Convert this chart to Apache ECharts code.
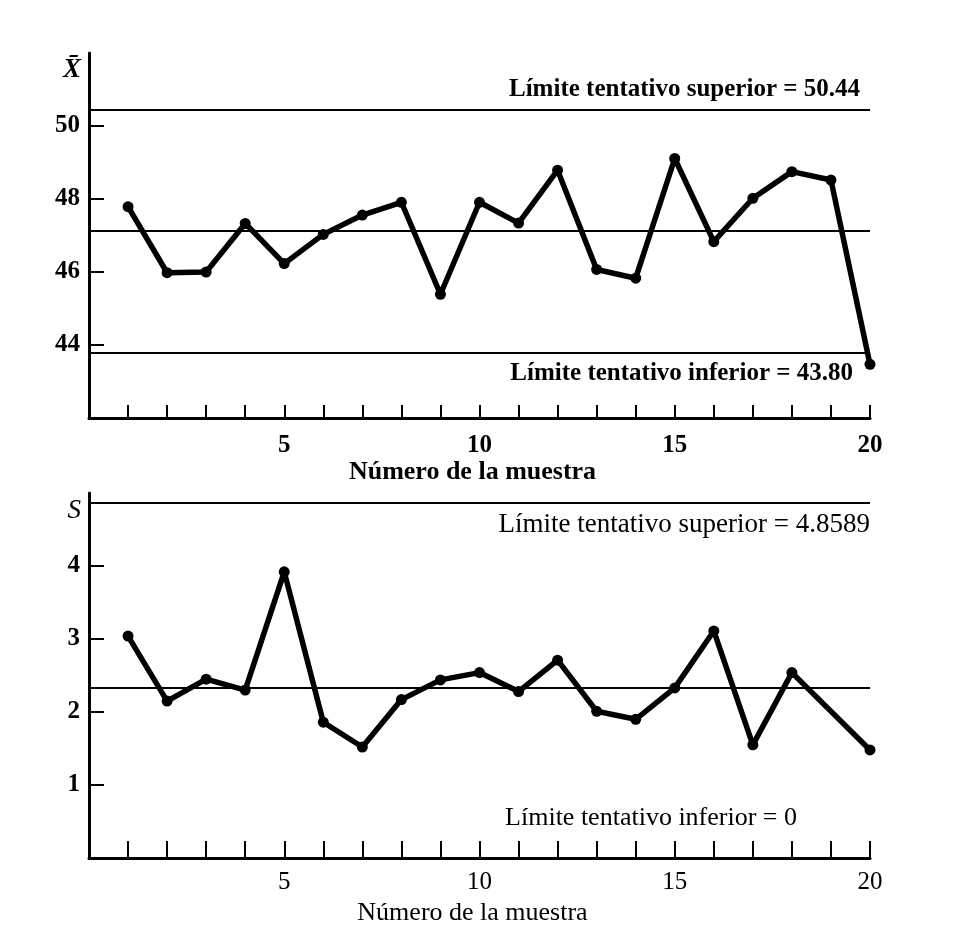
<!DOCTYPE html>
<html><head><meta charset="utf-8">
<script src="https://cdn.jsdelivr.net/npm/echarts@6/dist/echarts.min.js"></script>
<style>html,body{margin:0;padding:0;background:#fff}#c{width:972px;height:928px}</style>
</head><body><div id="c"></div>
<script>
// ---- data ----
const samples = [1,2,3,4,5,6,7,8,9,10,11,12,13,14,15,16,17,18,19,20];
const xbarValues = [47.79,45.98,46.00,47.33,46.23,47.03,47.56,47.91,45.39,47.91,47.34,48.79,46.07,45.83,49.11,46.83,48.02,48.75,48.52,43.47];
const sValues = [3.04,2.15,2.45,2.30,3.92,1.86,1.52,2.17,2.44,2.54,2.28,2.71,2.01,1.90,2.33,3.11,1.55,2.54,null,1.48];
const xbarUpper = 50.44, xbarCenter = 47.12, xbarLower = 43.80;
const sUpper = 4.8589, sCenter = 2.326, sLower = 0;
const xTickValues = [1,2,3,4,5,6,7,8,9,10,11,12,13,14,15,16,17,18,19,20];
const xLabelValues = [5,10,15,20];
const xbarTickValues = [44,46,48,50];
const sTickValues = [1,2,3,4];
const xName = 'Número de la muestra';
const xbarName = 'X\u0304';
const sName = 'S';
const xbarUpperText = 'Límite tentativo superior = 50.44';
const xbarLowerText = 'Límite tentativo inferior = 43.80';
const sUpperText = 'Límite tentativo superior = 4.8589';
const sLowerText = 'Límite tentativo inferior = 0';

const FONT = 'Liberation Serif';
const toPairs = (vals) => samples.map((x, i) => [x, vals[i]]);

function xAxisCfg(gridIndex, bold, tickLen, margin, nameGap) {
  return {
    type: 'value', gridIndex, min: 0, max: 20, interval: 1,
    name: xName, nameLocation: 'middle', nameGap,
    nameTextStyle: { fontFamily: FONT, fontSize: 26, fontWeight: bold ? 'bold' : 'normal', color: '#000', padding: [0, 14, 0, 0] },
    axisLine: { show: true, onZero: false, lineStyle: { color: '#000', width: 3 } },
    axisTick: { show: true, inside: true, length: tickLen, customValues: xTickValues, lineStyle: { color: '#000', width: 2 } },
    axisLabel: { customValues: xLabelValues, margin, fontFamily: FONT, fontSize: 25, fontWeight: bold ? 'bold' : 'normal', color: '#000' },
    splitLine: { show: false }
  };
}
function yAxisCfg(gridIndex, min, max, interval, ticks, name, nameStyle) {
  return {
    type: 'value', gridIndex, min, max, interval,
    name, nameLocation: 'end', nameGap: -4, nameMoveOverlap: false,
    nameTextStyle: Object.assign({ fontFamily: FONT, fontSize: 27, color: '#000', align: 'right', verticalAlign: 'top', padding: [0, 8, 0, 0] }, nameStyle),
    axisLine: { show: true, onZero: false, lineStyle: { color: '#000', width: 3 } },
    axisTick: { show: true, inside: true, length: 15, customValues: ticks, lineStyle: { color: '#000', width: 2 } },
    axisLabel: { customValues: ticks, margin: 9, fontFamily: FONT, fontSize: 25, fontWeight: 'bold', color: '#000' },
    splitLine: { show: false }
  };
}
function limitLine(value, text, position, distance, bold, size) {
  return {
    yAxis: value,
    lineStyle: { color: '#000', width: 2, type: 'solid' },
    label: text ? { show: true, formatter: text, position, distance, opacity: 1, fontFamily: FONT, fontSize: size, fontWeight: bold ? 'bold' : 'normal', color: '#000' } : { show: false }
  };
}

const chart = echarts.init(document.getElementById('c'), null, { renderer: 'canvas' });
chart.setOption({
  animation: false,
  backgroundColor: '#fff',
  grid: [
    { left: 89, right: 102, top: 53, height: 365, outerBoundsMode: 'none' },
    { left: 89, right: 102, top: 493, height: 365, outerBoundsMode: 'none' }
  ],
  xAxis: [xAxisCfg(0, true, 13, 15, 41), xAxisCfg(1, false, 17, 12, 42)],
  yAxis: [
    yAxisCfg(0, 42, 52, 2, xbarTickValues, xbarName, { fontWeight: 'bold', fontStyle: 'italic' }),
    yAxisCfg(1, 0, 5, 1, sTickValues, sName, { fontStyle: 'italic' })
  ],
  series: [
    {
      type: 'line', xAxisIndex: 0, yAxisIndex: 0, data: toPairs(xbarValues),
      symbol: 'circle', symbolSize: 11, lineStyle: { color: '#000', width: 5.5 }, itemStyle: { color: '#000' },
      markLine: {
        silent: true, symbol: 'none', animation: false,
        data: [
          limitLine(xbarUpper, xbarUpperText, 'insideEndTop', [10, 8], true, 25),
          limitLine(xbarCenter, null),
          limitLine(xbarLower, xbarLowerText, 'insideEndBottom', [17, 9], true, 25)
        ]
      }
    },
    {
      type: 'line', xAxisIndex: 1, yAxisIndex: 1, data: toPairs(sValues), connectNulls: true,
      symbol: 'circle', symbolSize: 11, lineStyle: { color: '#000', width: 5.5 }, itemStyle: { color: '#000' },
      markLine: {
        silent: true, symbol: 'none', animation: false,
        data: [
          limitLine(sUpper, sUpperText, 'insideEndBottom', [0, 8], false, 27),
          limitLine(sCenter, null),
          limitLine(sLower, sLowerText, 'insideEndTop', [73, 27], false, 26)
        ]
      }
    }
  ]
});
</script></body></html>
